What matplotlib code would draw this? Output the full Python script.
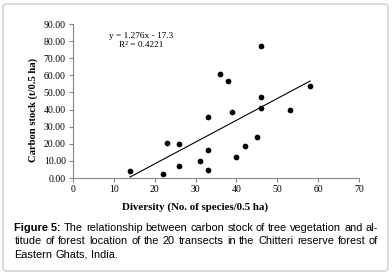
import matplotlib.pyplot as plt
import numpy as np
from matplotlib.patches import FancyBboxPatch

# diversity (no. of species / 0.5 ha) vs carbon stock (t / 0.5 ha)
diversity = [14, 22, 23, 26, 26, 31, 33, 33, 33, 36,
             38, 39, 40, 42, 45, 46, 46, 46, 53, 58]
carbon = [4.0, 2.3, 20.2, 20.0, 7.0, 10.1, 4.5, 16.3, 35.6, 61.0,
          56.5, 38.3, 12.3, 18.5, 24.2, 77.0, 47.3, 41.2, 40.0, 53.8]
slope, intercept = 1.276, -17.3

caption = [
    ("Figure 5:", " The relationship between carbon stock of tree vegetation and al-"),
    ("", "titude of forest location of the 20 transects in the Chitteri reserve forest of"),
    ("", "Eastern Ghats, India."),
]

W, H = 392, 274
fig = plt.figure(figsize=(W / 100, H / 100), dpi=100)
fig.patch.set_facecolor("white")

# rounded frame around the figure
frame = FancyBboxPatch((3 / W, 3 / H), 385 / W, 267 / H,
                       boxstyle="round,pad=0,rounding_size=0.012",
                       transform=fig.transFigure, facecolor="none",
                       edgecolor="#d4d4d4", linewidth=1.2, zorder=-1)
fig.patches.append(frame)

ax = fig.add_axes([72.7 / W, 1 - 178 / H, 286.6 / W, 154 / H])
ax.set_facecolor("none")

serif = "Liberation Serif"
ax.scatter(diversity, carbon, s=17, color="black", zorder=3, linewidths=0)
xs = np.array([min(diversity), max(diversity)])
ax.plot(xs, slope * xs + intercept, color="black", linewidth=0.8)

ax.set_xlim(0, 70)
ax.set_ylim(0, 90)
ax.set_xticks(range(0, 71, 10))
ax.set_yticks(range(0, 91, 10))
ax.set_yticklabels([f"{v:.2f}" for v in range(0, 91, 10)])
for s in ("top", "right"):
    ax.spines[s].set_visible(False)
for s in ("left", "bottom"):
    ax.spines[s].set_color("#868686")
    ax.spines[s].set_linewidth(0.8)
ax.tick_params(direction="out", length=3, width=0.8, color="#868686",
               labelsize=7, pad=2)
for lab in ax.get_xticklabels() + ax.get_yticklabels():
    lab.set_fontfamily(serif)

ax.set_xlabel("Diversity (No. of species/0.5 ha)", fontfamily=serif,
              fontweight="bold", fontsize=7.8)
ax.set_ylabel("Carbon stock (t/0.5 ha)", fontfamily=serif,
              fontweight="bold", fontsize=7.7)
ax.xaxis.set_label_coords((195 - 72.7) / 286.6, -(207 - 178) / 154)
ax.yaxis.set_label_coords(-(72.7 - 33) / 286.6, (178 - 109.5) / 154)
ax.xaxis.label.set_va("center")
ax.yaxis.label.set_va("center")

ax.text(16.8, 80.5, f"y = {slope}x - {abs(intercept)}\nR² = 0.4221",
        fontfamily=serif, fontsize=6.7, ha="center", va="center",
        linespacing=1.25)

# caption, justified to the first line's width
sans = "Liberation Sans"
fs = 7.9
left_px, right_px = 14.5, 378
ys = [228, 241.5, 254.5]
fig.canvas.draw()
r = fig.canvas.get_renderer()
probe = fig.text(0, 0, "a a", fontsize=fs, fontfamily=sans)
probe2 = fig.text(0, 0, "aa", fontsize=fs, fontfamily=sans)
space = probe.get_window_extent(r).width - probe2.get_window_extent(r).width
probe.remove()
probe2.remove()
for i, (bold, rest) in enumerate(caption):
    y = 1 - ys[i] / H
    words = [(bold, "bold")] if bold else []
    words += [(w, "normal") for w in rest.split()]
    arts = [fig.text(0, y, w, fontfamily=sans, fontsize=fs, fontweight=wt,
                     va="center", ha="left") for w, wt in words]
    widths = [a.get_window_extent(r).width for a in arts]
    if i < len(caption) - 1:
        gap = (right_px - left_px - sum(widths)) / (len(arts) - 1)
    else:
        gap = space
    x = left_px
    for a, wdt in zip(arts, widths):
        a.set_x(x / W)
        x += wdt + gap

fig.savefig("out.png", dpi=100, facecolor="white")
